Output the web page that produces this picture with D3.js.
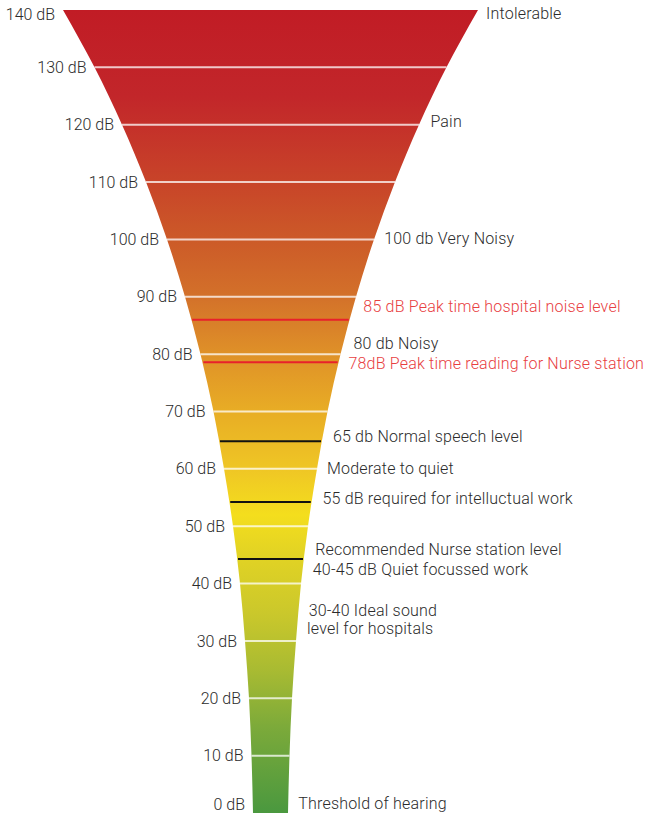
<!DOCTYPE html>
<html>
<head>
<meta charset="utf-8">
<script src="https://cdn.jsdelivr.net/npm/d3@7"></script>
<style>
  html, body { margin: 0; padding: 0; background: #fff; }
  svg { display: block; font-family: Roboto, "DejaVu Sans", sans-serif; }
</style>
</head>
<body>
<div id="chart"></div>
<script>
// dB levels with a separator line and a left-hand label
const levels = [0, 10, 20, 30, 40, 50, 60, 70, 80, 90, 100, 110, 120, 130, 140]
const tickLabels = levels.map(d => `${d} dB`)

// measured marker lines (dB where the line sits)
const redMarkers = [86, 78.6]
const blackMarkers = [64.8, 54.2, 44.3]

// right-hand annotations: text, dB level of the text, red or not
const noteTexts = [
  "Intolerable", "Pain", "100 db Very Noisy",
  "85 dB Peak time hospital noise level", "80 db Noisy",
  "78dB Peak time reading for Nurse station",
  "65 db Normal speech level", "Moderate to quiet",
  "55 dB required for intelluctual work",
  "Recommended Nurse station level", "40-45 dB Quiet focussed work",
  "30-40 Ideal sound", "level for hospitals", "Threshold of hearing"
]
const noteLevels = [139.4, 120.5, 100.1, 88.3, 81.9, 78.4, 65.6, 60, 54.9, 45.9, 42.5, 35.4, 32.1, 1.6]
const noteIsRed = [false, false, false, true, false, true, false, false, false, false, false, false, false, false]

const width = 653, height = 818
const cx = 270.5

const y = d3.scaleLinear().domain([0, 140]).range([813, 10])

// funnel profile: half width of the funnel at each level
const half = d3.scaleLinear()
  .domain(levels)
  .range([17.5, 19, 21.5, 25.5, 30.5, 37.5, 46.5, 57, 70, 85.5, 103.5, 124.5, 148.5, 176, 207.5])

const leftEdge = v => cx - half(v)
const rightEdge = v => cx + half(v)

const svg = d3.select("#chart").append("svg")
  .attr("width", width)
  .attr("height", height)

const defs = svg.append("defs")
const grad = defs.append("linearGradient")
  .attr("id", "funnelGrad")
  .attr("gradientUnits", "userSpaceOnUse")
  .attr("x1", 0).attr("x2", 0)
  .attr("y1", y(140)).attr("y2", y(0))

const colorStops = [
  [140, "#c11c25"], [125, "#c2262a"], [110, "#c84429"], [100, "#cc5a28"],
  [90, "#d3712a"], [80, "#df9128"], [70, "#e8ad25"], [60, "#efc625"],
  [52, "#f4de1d"], [45, "#e2d324"], [35, "#cbc82b"], [25, "#a9bb32"],
  [15, "#7caa3a"], [0, "#4a983f"]
]
grad.selectAll("stop")
  .data(colorStops)
  .join("stop")
  .attr("offset", d => (y(d[0]) - y(140)) / (y(0) - y(140)))
  .attr("stop-color", d => d[1])

const area = d3.area()
  .y(d => y(d))
  .x0(d => leftEdge(d))
  .x1(d => rightEdge(d))
  .curve(d3.curveMonotoneY)

svg.append("path")
  .datum(levels)
  .attr("d", area)
  .attr("fill", "url(#funnelGrad)")

// separator lines
svg.append("g")
  .selectAll("line")
  .data(levels.filter(d => d > 0 && d < 140))
  .join("line")
  .attr("x1", d => leftEdge(d))
  .attr("x2", d => rightEdge(d))
  .attr("y1", d => y(d))
  .attr("y2", d => y(d))
  .attr("stroke", "#fff")
  .attr("stroke-opacity", 0.75)
  .attr("stroke-width", 2)

const markers = redMarkers.map(v => ({ v, c: "#e8212b" }))
  .concat(blackMarkers.map(v => ({ v, c: "#111" })))

svg.append("g")
  .selectAll("line")
  .data(markers)
  .join("line")
  .attr("x1", d => leftEdge(d.v) + 1)
  .attr("x2", d => rightEdge(d.v) - 1)
  .attr("y1", d => y(d.v))
  .attr("y2", d => y(d.v))
  .attr("stroke", d => d.c)
  .attr("stroke-width", 2)

// left labels
svg.append("g")
  .selectAll("text")
  .data(levels)
  .join("text")
  .attr("x", d => leftEdge(d) - 8)
  .attr("y", d => Math.min(Math.max(y(d), 14), 804))
  .attr("dy", "0.35em")
  .attr("text-anchor", "end")
  .attr("fill", "#2b2b2b")
  .style("font-size", "16px")
  .style("font-weight", 300)
  .text((d, i) => tickLabels[i])

// right annotations
svg.append("g")
  .selectAll("text")
  .data(noteTexts)
  .join("text")
  .attr("x", (d, i) => rightEdge(noteLevels[i]) + 10)
  .attr("y", (d, i) => y(noteLevels[i]))
  .attr("dy", "0.35em")
  .attr("fill", (d, i) => noteIsRed[i] ? "#e8403f" : "#2b2b2b")
  .style("font-size", "16px")
  .style("font-weight", 300)
  .style("letter-spacing", "0.2px")
  .text(d => d)
</script>
</body>
</html>
